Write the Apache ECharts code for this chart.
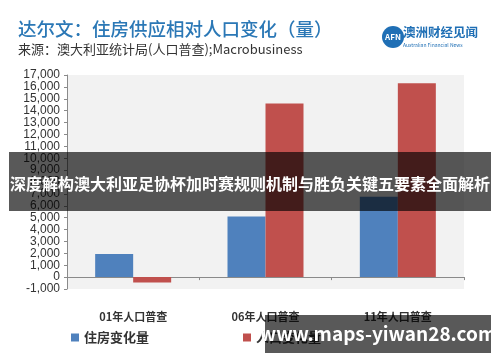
<!DOCTYPE html>
<html><head><meta charset="utf-8">
<script src="https://cdn.jsdelivr.net/npm/echarts@6/dist/echarts.min.js"></script>
<style>html,body{margin:0;padding:0;background:#fff}#c{width:500px;height:362px}</style>
</head><body><div id="c"></div>
<script>
var categories = ['01年人口普查', '06年人口普查', '11年人口普查'];
var housingChange = [1950, 5100, 6750];
var populationChange = [-450, 14600, 16300];
var seriesNames = ['住房变化量', '人口变化量'];
var yMin = -1000, yMax = 17000, yStep = 1000;

var chart = echarts.init(document.getElementById('c'));
var FONT = '"Noto Sans CJK SC","Noto Sans",sans-serif';
chart.setOption({
  animation: false,
  textStyle: {fontFamily: FONT},
  grid: {left: 67, right: 36, top: 75, bottom: 73, show: true, backgroundColor: '#f2f2f2', borderWidth: 0},
  legend: {
    left: 66, top: 326, itemWidth: 8, itemHeight: 8, itemGap: 94,
    icon: 'rect',
    textStyle: {fontSize: 13, color: '#333', fontWeight: 'bold', fontFamily: FONT},
    data: seriesNames
  },
  xAxis: {
    type: 'category', data: categories,
    axisLine: {onZero: true, lineStyle: {color: '#8a8a8a', width: 1}},
    axisTick: {show: true, length: 3, lineStyle: {color: '#8a8a8a'}},
    axisLabel: {margin: 22, fontSize: 11, color: '#333', fontWeight: 'bold', fontFamily: FONT}
  },
  yAxis: {
    type: 'value', min: yMin, max: yMax, interval: yStep,
    axisLine: {show: true, lineStyle: {color: '#8a8a8a'}},
    axisTick: {show: true, length: 3, lineStyle: {color: '#8a8a8a'}},
    splitLine: {show: false},
    axisLabel: {fontSize: 12, color: '#333', margin: 7, fontFamily: 'Liberation Sans, Arial, sans-serif',
      formatter: function(v){ return v.toLocaleString('en-US'); }}
  },
  series: [
    {name: seriesNames[0], type: 'bar', data: housingChange, barWidth: 38, barGap: '0%', itemStyle: {color: '#4f81bd'}},
    {name: seriesNames[1], type: 'bar', data: populationChange, barWidth: 38, barGap: '0%', itemStyle: {color: '#c0504d'}}
  ],
  graphic: [
    {type: 'text', left: 18, top: 20, style: {text: '达尔文：住房供应相对人口变化（量）', fill: '#2b78b6', font: '500 18.5px ' + FONT}},
    {type: 'text', left: 18, top: 43, style: {text: '来源：澳大利亚统计局(人口普查);Macrobusiness', fill: '#333', font: '13px ' + FONT}},
    {type: 'circle', shape: {cx: 393, cy: 37, r: 11}, style: {fill: '#1f6fb5'}},
    {type: 'text', x: 393, y: 37, style: {text: 'AFN', fill: '#fff', font: 'bold 8px ' + FONT, align: 'center', verticalAlign: 'middle'}},
    {type: 'text', left: 403, top: 26, style: {text: '澳洲财经见闻', fill: '#1f6fb5', font: 'bold 12.5px ' + FONT}},
    {type: 'text', left: 403, top: 43, style: {text: 'Australian Financial News', fill: '#1f6fb5', font: '5px ' + FONT}},
    {type: 'rect', shape: {x: 9, y: 152, width: 482, height: 59}, style: {fill: 'rgba(0,0,0,0.65)'}, z: 100},
    {type: 'text', x: 250, y: 184, z: 101, style: {text: '深度解构澳大利亚足协杯加时赛规则机制与胜负关键五要素全面解析', fill: '#fff', font: 'bold 16px ' + FONT, align: 'center', verticalAlign: 'middle'}},
    {type: 'rect', shape: {x: 265, y: 315, width: 226, height: 38}, style: {fill: 'rgba(0,0,0,0.65)'}, z: 100},
    {type: 'text', x: 378, y: 334, z: 101, style: {text: 'www.maps-yiwan28.com', fill: '#fff', font: 'bold 19px ' + FONT, align: 'center', verticalAlign: 'middle'}}
  ]
});
</script></body></html>
